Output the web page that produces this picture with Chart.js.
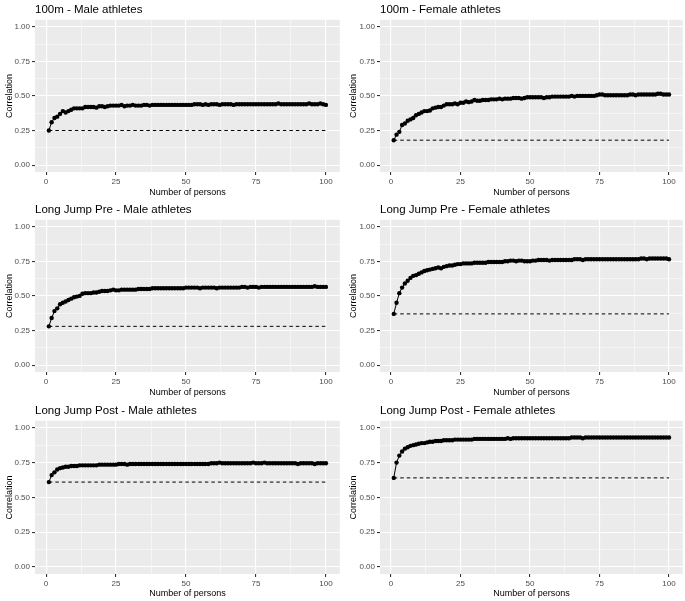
<!DOCTYPE html>
<html>
<head>
<meta charset="utf-8">
<script src="https://cdn.jsdelivr.net/npm/chart.js@4.4.1/dist/chart.umd.min.js"></script>
<style>
body { margin:0; background:#fff; }
#wrap { position:relative; width:685px; height:601px; background:#fff; overflow:hidden; }
canvas { position:absolute; }
</style>
</head>
<body>
<div id="wrap">
<canvas id="c1" width="342" height="200" style="left:0;top:0"></canvas>
<canvas id="c2" width="342" height="200" style="left:343px;top:0"></canvas>
<canvas id="c3" width="342" height="200" style="left:0;top:200px"></canvas>
<canvas id="c4" width="342" height="200" style="left:343px;top:200px"></canvas>
<canvas id="c5" width="342" height="201" style="left:0;top:400px"></canvas>
<canvas id="c6" width="342" height="201" style="left:343px;top:400px"></canvas>
</div>
<script>
// panel titles
var titles = [
  "100m - Male athletes",
  "100m - Female athletes",
  "Long Jump Pre - Male athletes",
  "Long Jump Pre - Female athletes",
  "Long Jump Post - Male athletes",
  "Long Jump Post - Female athletes"
];
// tick labels
var xTicks = [0, 25, 50, 75, 100];
var yTicks = [0, 0.25, 0.5, 0.75, 1];
// correlation with one person (dashed reference line)
var baseline = [0.25, 0.18, 0.28, 0.37, 0.61, 0.64];

// correlation by number of persons (1..100)
var male100 = [
  0.25,0.31,0.34,0.35,0.37,0.39,0.38,0.39,0.40,0.41,
  0.41,0.41,0.41,0.42,0.42,0.42,0.42,0.415,0.425,0.425,
  0.42,0.425,0.43,0.43,0.43,0.43,0.435,0.425,0.43,0.43,
  0.435,0.43,0.43,0.43,0.435,0.435,0.43,0.435,0.435,0.435,
  0.435,0.435,0.435,0.435,0.435,0.435,0.435,0.435,0.435,0.435,
  0.435,0.435,0.44,0.44,0.44,0.435,0.44,0.435,0.44,0.44,
  0.44,0.435,0.44,0.44,0.44,0.44,0.435,0.44,0.44,0.44,
  0.44,0.44,0.44,0.44,0.44,0.44,0.44,0.44,0.44,0.44,
  0.44,0.44,0.445,0.44,0.44,0.44,0.44,0.44,0.44,0.44,
  0.44,0.44,0.44,0.445,0.44,0.44,0.44,0.445,0.44,0.435
];
var female100 = [
  0.18,0.22,0.24,0.29,0.30,0.32,0.33,0.34,0.36,0.37,
  0.38,0.39,0.39,0.395,0.41,0.415,0.42,0.42,0.43,0.44,
  0.44,0.44,0.445,0.44,0.45,0.45,0.46,0.455,0.46,0.47,
  0.465,0.465,0.47,0.47,0.47,0.475,0.475,0.475,0.48,0.475,
  0.48,0.48,0.48,0.485,0.485,0.485,0.48,0.485,0.49,0.49,
  0.49,0.49,0.49,0.49,0.485,0.49,0.49,0.495,0.495,0.495,
  0.495,0.495,0.495,0.495,0.50,0.495,0.50,0.50,0.50,0.50,
  0.50,0.50,0.50,0.505,0.51,0.51,0.505,0.505,0.505,0.505,
  0.505,0.505,0.505,0.505,0.505,0.51,0.51,0.505,0.51,0.51,
  0.51,0.51,0.51,0.51,0.51,0.515,0.515,0.51,0.51,0.51
];
var preMale = [
  0.28,0.34,0.39,0.41,0.44,0.45,0.46,0.47,0.48,0.49,
  0.495,0.50,0.515,0.52,0.52,0.52,0.525,0.525,0.53,0.535,
  0.535,0.535,0.54,0.545,0.54,0.54,0.545,0.545,0.545,0.545,
  0.545,0.545,0.55,0.55,0.55,0.55,0.55,0.555,0.555,0.555,
  0.555,0.555,0.555,0.555,0.555,0.555,0.555,0.555,0.555,0.56,
  0.56,0.56,0.56,0.56,0.555,0.56,0.56,0.56,0.56,0.56,
  0.555,0.56,0.56,0.56,0.56,0.56,0.56,0.56,0.56,0.565,
  0.565,0.56,0.565,0.565,0.565,0.56,0.565,0.565,0.565,0.565,
  0.565,0.565,0.565,0.565,0.565,0.565,0.565,0.565,0.565,0.565,
  0.565,0.565,0.565,0.565,0.565,0.57,0.565,0.565,0.565,0.565
];
var preFemale = [
  0.37,0.45,0.52,0.56,0.59,0.61,0.63,0.645,0.65,0.66,
  0.67,0.68,0.685,0.69,0.695,0.70,0.705,0.70,0.71,0.715,
  0.72,0.72,0.725,0.73,0.73,0.735,0.735,0.735,0.735,0.74,
  0.74,0.74,0.74,0.74,0.745,0.745,0.745,0.745,0.745,0.745,
  0.75,0.75,0.755,0.755,0.75,0.755,0.755,0.75,0.75,0.75,
  0.755,0.755,0.76,0.76,0.76,0.76,0.755,0.76,0.76,0.76,
  0.76,0.76,0.76,0.76,0.76,0.765,0.765,0.765,0.76,0.765,
  0.765,0.765,0.765,0.765,0.765,0.765,0.765,0.765,0.765,0.765,
  0.765,0.765,0.765,0.765,0.765,0.765,0.765,0.765,0.765,0.77,
  0.77,0.765,0.77,0.77,0.77,0.77,0.77,0.77,0.77,0.765
];
var postMale = [
  0.61,0.66,0.68,0.70,0.71,0.715,0.72,0.72,0.725,0.725,
  0.725,0.73,0.73,0.73,0.73,0.73,0.73,0.73,0.735,0.735,
  0.735,0.735,0.735,0.735,0.735,0.74,0.74,0.74,0.735,0.74,
  0.74,0.74,0.74,0.74,0.74,0.74,0.74,0.74,0.74,0.74,
  0.74,0.74,0.74,0.74,0.74,0.74,0.74,0.74,0.74,0.74,
  0.74,0.74,0.74,0.74,0.74,0.74,0.74,0.74,0.745,0.745,
  0.745,0.75,0.745,0.745,0.745,0.745,0.745,0.745,0.745,0.745,
  0.745,0.745,0.745,0.75,0.745,0.745,0.745,0.75,0.745,0.745,
  0.745,0.745,0.745,0.745,0.745,0.745,0.745,0.745,0.745,0.74,
  0.745,0.745,0.745,0.745,0.745,0.74,0.745,0.745,0.745,0.745
];
var postFemale = [
  0.64,0.75,0.80,0.83,0.85,0.86,0.87,0.875,0.88,0.885,
  0.89,0.89,0.895,0.90,0.90,0.905,0.905,0.905,0.91,0.91,
  0.91,0.91,0.915,0.915,0.915,0.915,0.915,0.915,0.915,0.92,
  0.92,0.92,0.92,0.92,0.92,0.92,0.92,0.92,0.92,0.92,
  0.92,0.925,0.92,0.925,0.925,0.925,0.925,0.925,0.925,0.925,
  0.925,0.925,0.925,0.925,0.925,0.925,0.925,0.925,0.925,0.925,
  0.925,0.925,0.925,0.925,0.93,0.93,0.93,0.93,0.925,0.93,
  0.93,0.93,0.93,0.93,0.93,0.93,0.93,0.93,0.93,0.93,
  0.93,0.93,0.93,0.93,0.93,0.93,0.93,0.93,0.93,0.93,
  0.93,0.93,0.93,0.93,0.93,0.93,0.93,0.93,0.93,0.93
];
var series = [male100, female100, preMale, preFemale, postMale, postFemale];

var FONT = "'Liberation Sans', Arial, sans-serif";

// grey panel background like ggplot
var panelBg = {
  id: 'panelBg',
  beforeDraw: function(chart) {
    var a = chart.chartArea;
    var c = chart.ctx;
    c.save();
    c.fillStyle = '#EBEBEB';
    c.fillRect(a.left, a.top, a.right - a.left, a.bottom - a.top);
    c.restore();
  }
};

function isMajor(v, list) {
  for (var i = 0; i < list.length; i++) {
    if (Math.abs(list[i] - v) < 1e-6) return true;
  }
  return false;
}

function makePanel(k) {
  var vals = series[k];
  var pts = vals.map(function(v, i){ return {x: i + 1, y: v}; });
  var base = [{x: 1, y: baseline[k]}, {x: vals.length, y: baseline[k]}];
  var rightCol = (k % 2 == 1);
  var lastRow = (k >= 4);

  new Chart(document.getElementById('c' + (k + 1)), {
    type: 'scatter',
    data: {
      datasets: [{
        data: pts,
        showLine: true,
        borderColor: '#000',
        borderWidth: 1,
        backgroundColor: '#000',
        pointRadius: 2.2,
        pointHoverRadius: 2.2,
        pointBorderWidth: 0,
        tension: 0,
        order: 0
      }, {
        data: base,
        showLine: true,
        borderColor: '#000',
        borderWidth: 1,
        borderDash: [3.5, 3],
        pointRadius: 0,
        order: 1
      }]
    },
    options: {
      responsive: false,
      animation: false,
      events: [],
      layout: { padding: { top: 0, right: 1, left: 0, bottom: 0 } },
      plugins: {
        legend: { display: false },
        tooltip: { enabled: false },
        title: {
          display: true,
          text: titles[k],
          align: 'start',
          fullSize: false,
          color: '#000',
          font: { family: FONT, size: 11.5, weight: 'normal' },
          padding: { top: lastRow ? 4 : 3, bottom: 3 }
        }
      },
      scales: {
        x: {
          type: 'linear',
          min: -3.95,
          max: 104.95,
          afterBuildTicks: function(s) {
            var t = [];
            for (var v = 0; v <= 100; v += 12.5) t.push({value: v});
            s.ticks = t;
          },
          afterFit: function(s) { s.height = lastRow ? 27 : 28; },
          border: { display: false },
          grid: {
            color: '#fff',
            lineWidth: function(c) { return isMajor(c.tick.value, xTicks) ? 1.1 : 0.5; },
            tickLength: 3,
            tickColor: function(c) { return isMajor(c.tick.value, xTicks) ? '#333' : 'rgba(0,0,0,0)'; }
          },
          ticks: {
            autoSkip: false,
            maxRotation: 0,
            padding: 2,
            color: '#4D4D4D',
            font: { family: FONT, size: 8 },
            callback: function(v) { return isMajor(v, xTicks) ? String(v) : ''; }
          },
          title: {
            display: true,
            text: 'Number of persons',
            color: '#000',
            font: { family: FONT, size: 9 },
            padding: { top: 0, bottom: 2 }
          }
        },
        y: {
          type: 'linear',
          min: -0.05,
          max: 1.05,
          afterBuildTicks: function(s) {
            var t = [];
            for (var v = 0; v <= 8; v++) t.push({value: v * 0.125});
            s.ticks = t;
          },
          afterFit: function(s) { s.width = rightCol ? 37 : 35; },
          border: { display: false },
          grid: {
            color: '#fff',
            lineWidth: function(c) { return isMajor(c.tick.value, yTicks) ? 1.1 : 0.5; },
            tickLength: 3,
            tickColor: function(c) { return isMajor(c.tick.value, yTicks) ? '#333' : 'rgba(0,0,0,0)'; }
          },
          ticks: {
            autoSkip: false,
            padding: 2,
            color: '#4D4D4D',
            font: { family: FONT, size: 8 },
            callback: function(v) { return isMajor(v, yTicks) ? v.toFixed(2) : ''; }
          },
          title: {
            display: true,
            text: 'Correlation',
            color: '#000',
            font: { family: FONT, size: 9 },
            padding: { top: rightCol ? 5 : 4, bottom: 0 }
          }
        }
      }
    },
    plugins: [panelBg]
  });
}

for (var k = 0; k < 6; k++) makePanel(k);
</script>
</body>
</html>
